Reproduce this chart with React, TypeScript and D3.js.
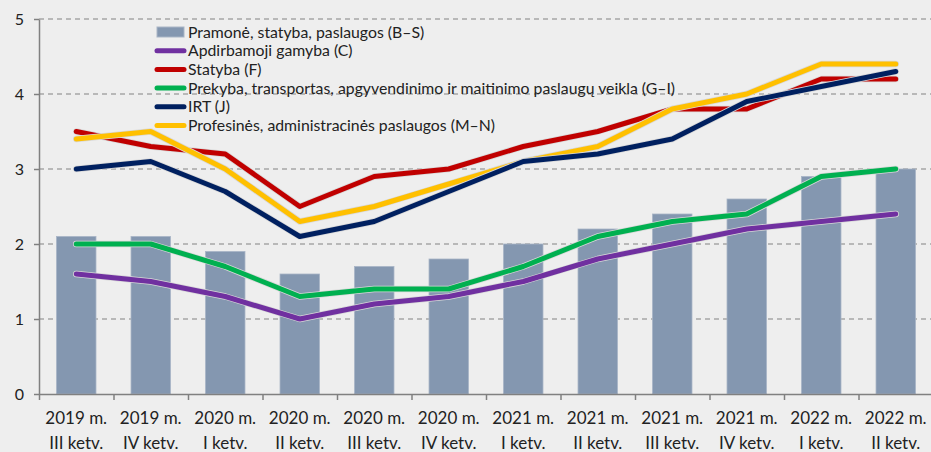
import { useEffect, useRef } from "react";
import * as d3 from "d3";

const categories = [
  ["2019 m.", "III ketv."],
  ["2019 m.", "IV ketv."],
  ["2020 m.", "I ketv."],
  ["2020 m.", "II ketv."],
  ["2020 m.", "III ketv."],
  ["2020 m.", "IV ketv."],
  ["2021 m.", "I ketv."],
  ["2021 m.", "II ketv."],
  ["2021 m.", "III ketv."],
  ["2021 m.", "IV ketv."],
  ["2022 m.", "I ketv."],
  ["2022 m.", "II ketv."],
];

const barValues = [2.1, 2.1, 1.9, 1.6, 1.7, 1.8, 2.0, 2.2, 2.4, 2.6, 2.9, 3.0];
const manufacturing = [1.6, 1.5, 1.3, 1.0, 1.2, 1.3, 1.5, 1.8, 2.0, 2.2, 2.3, 2.4];
const construction = [3.5, 3.3, 3.2, 2.5, 2.9, 3.0, 3.3, 3.5, 3.8, 3.8, 4.2, 4.2];
const trade = [2.0, 2.0, 1.7, 1.3, 1.4, 1.4, 1.7, 2.1, 2.3, 2.4, 2.9, 3.0];
const ict = [3.0, 3.1, 2.7, 2.1, 2.3, 2.7, 3.1, 3.2, 3.4, 3.9, 4.1, 4.3];
const professional = [3.4, 3.5, 3.0, 2.3, 2.5, 2.8, 3.1, 3.3, 3.8, 4.0, 4.4, 4.4];

const yTicks = [0, 1, 2, 3, 4, 5];

const barLabel = "Pramonė, statyba, paslaugos (B–S)";
const lineSeries = [
  { name: "Apdirbamoji gamyba (C)", values: manufacturing, color: "#7030a0" },
  { name: "Statyba (F)", values: construction, color: "#c00000" },
  { name: "Prekyba, transportas, apgyvendinimo ir maitinimo paslaugų veikla (G–I)", values: trade, color: "#00b050" },
  { name: "IRT (J)", values: ict, color: "#002060" },
  { name: "Profesinės, administracinės paslaugos (M–N)", values: professional, color: "#ffc000" },
];
// draw order in the picture (later on top)
const drawOrder = [0, 2, 1, 4, 3];

const W = 931;
const H = 452;
const FONT = "Lato, 'Noto Sans', sans-serif";

export default function App() {
  const svgRef = useRef<SVGSVGElement>(null);

  useEffect(() => {
    const svg = d3.select(svgRef.current);
    svg.selectAll("*").remove();

    const left = 39;
    const right = 933;
    const top = 19;
    const bottom = 394;

    const x = d3
      .scaleBand<number>()
      .domain(d3.range(categories.length))
      .range([left, right]);
    const y = d3.scaleLinear().domain([0, 5]).range([bottom, top]);

    svg.append("rect").attr("width", W).attr("height", H).attr("fill", "#eeeeee");

    // Gridlines
    svg
      .append("g")
      .selectAll("line")
      .data(yTicks.filter((t) => t > 0))
      .enter()
      .append("line")
      .attr("x1", left)
      .attr("x2", W)
      .attr("y1", (d) => y(d))
      .attr("y2", (d) => y(d))
      .attr("stroke", "#a6a6a6")
      .attr("stroke-width", 1.5)
      .attr("stroke-dasharray", "5,4");

    // Bars
    const bw = x.bandwidth() * 0.53;
    svg
      .append("g")
      .selectAll("rect")
      .data(barValues)
      .enter()
      .append("rect")
      .attr("x", (_, i) => x(i)! + x.bandwidth() / 2 - bw / 2)
      .attr("width", bw)
      .attr("y", (d) => y(d))
      .attr("height", (d) => bottom - y(d))
      .attr("fill", "#8497b0")
      .attr("stroke", "#a9b5c6")
      .attr("stroke-width", 0.8);

    // Axes
    const yAxis = svg
      .append("g")
      .attr("transform", `translate(${left},0)`)
      .call(d3.axisLeft(y).tickValues(yTicks).tickSize(5).tickSizeOuter(0).tickFormat(d3.format("d")));
    yAxis.selectAll("text").attr("font-size", 16).attr("font-family", FONT).attr("fill", "#222").attr("x", -15);

    svg
      .append("g")
      .attr("transform", `translate(0,${bottom})`)
      .call(
        d3
          .axisBottom(d3.scaleLinear().domain([0, categories.length]).range([left, right]))
          .tickValues(d3.range(0, categories.length + 1))
          .tickSize(6)
          .tickSizeOuter(0)
          .tickFormat(() => "")
      );
    svg.selectAll(".domain, .tick line").attr("stroke", "#808080").attr("stroke-width", 1.5);

    // Category labels
    const labels = svg
      .append("g")
      .selectAll("text")
      .data(categories)
      .enter()
      .append("text")
      .attr("text-anchor", "middle")
      .attr("font-family", FONT)
      .attr("font-size", 17)
      .attr("fill", "#222");
    labels
      .append("tspan")
      .attr("x", (_, i) => x(i)! + x.bandwidth() / 2)
      .attr("y", 424)
      .text((d) => d[0]);
    labels
      .append("tspan")
      .attr("x", (_, i) => x(i)! + x.bandwidth() / 2)
      .attr("y", 449)
      .text((d) => d[1]);

    // Lines
    const line = d3
      .line<number>()
      .x((_, i) => x(i)! + x.bandwidth() / 2)
      .y((d) => y(d));
    const lg = svg.append("g");
    drawOrder.forEach((k) => {
      const s = lineSeries[k];
      lg.append("path")
        .attr("d", line(s.values))
        .attr("fill", "none")
        .attr("stroke", "#d8d8d8")
        .attr("stroke-width", 6.5)
        .attr("stroke-linecap", "round")
        .attr("stroke-linejoin", "round");
      lg.append("path")
        .attr("d", line(s.values))
        .attr("fill", "none")
        .attr("stroke", s.color)
        .attr("stroke-width", 5)
        .attr("stroke-linecap", "round")
        .attr("stroke-linejoin", "round");
    });

    // Legend
    const legend = svg.append("g").attr("font-family", FONT).attr("font-size", 15.8).attr("fill", "#222");
    const rowY = (i: number) => 32 + i * 18.7;
    legend
      .append("rect")
      .attr("x", 157)
      .attr("y", rowY(0) - 5)
      .attr("width", 27)
      .attr("height", 10)
      .attr("fill", "#8497b0")
      .attr("stroke", "#a9b5c6");
    legend.append("text").attr("x", 188).attr("y", rowY(0) + 5.5).text(barLabel);
    lineSeries.forEach((s, i) => {
      const yy = rowY(i + 1);
      legend
        .append("line")
        .attr("x1", 157)
        .attr("x2", 184)
        .attr("y1", yy)
        .attr("y2", yy)
        .attr("stroke", s.color)
        .attr("stroke-width", 5)
        .attr("stroke-linecap", "round");
      legend.append("text").attr("x", 188).attr("y", yy + 5.5).text(s.name);
    });
  }, []);

  return (
    <div style={{ position: "fixed", left: 0, top: 0 }}>
      <svg ref={svgRef} width={W} height={H} style={{ display: "block" }} />
    </div>
  );
}
